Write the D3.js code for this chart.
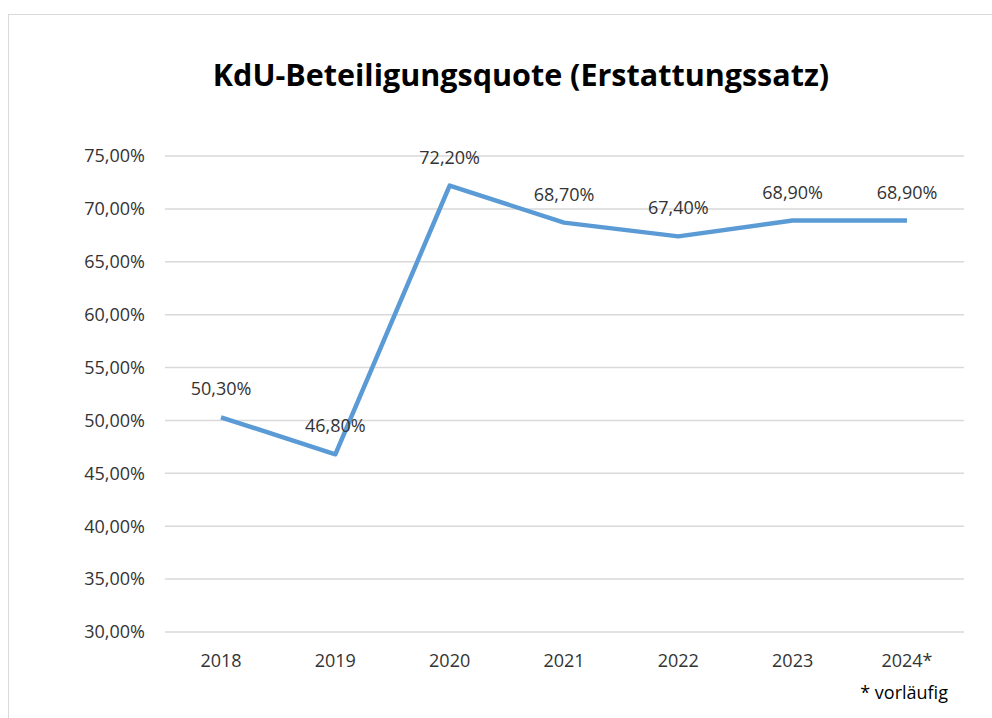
<!doctype html>
<html>
    <head>
        <script src="https://d3js.org/d3.v7.min.js"></script>
        <style type="text/css">
            body {
                margin:0;
                background:#fff;
            }
            svg {
                display:block;
            }
            text {
                font-family:"Open Sans",Calibri,sans-serif;
                fill:#333;
            }
        </style>
    </head>
    <body>
        <script>
            //chart values
            var years = ["2018","2019","2020","2021","2022","2023","2024*"];
            var quote = [50.3,46.8,72.2,68.7,67.4,68.9,68.9];
            var yTicks = [30,35,40,45,50,55,60,65,70,75];

            var fmt = function(v) {
                return d3.format(".2f")(v).replace(".",",")+"%";
            };

            var svg = d3.select("body").append("svg")
                .attr("width",992)
                .attr("height",718);

            //outer chart border
            svg.append("rect")
                .attr("x",8.5).attr("y",14.5)
                .attr("width",990).attr("height",720)
                .attr("fill","#fff")
                .attr("stroke","#d9d9d9");

            svg.append("text")
                .attr("x",521).attr("y",86)
                .attr("text-anchor","middle")
                .style("font-size","30.5px")
                .style("font-weight","bold")
                .style("fill","#000")
                .text("KdU-Beteiligungsquote (Erstattungssatz)");

            var x = d3.scalePoint().domain(years).range([221,907]);
            var y = d3.scaleLinear().domain([30,75]).range([632,156]);

            //gridlines
            svg.append("g").selectAll("line")
                .data(yTicks).enter().append("line")
                .attr("x1",165).attr("x2",964)
                .attr("y1",function(d) { return y(d); })
                .attr("y2",function(d) { return y(d); })
                .attr("stroke","#d9d9d9")
                .attr("stroke-width",1.5);

            //y axis labels
            svg.append("g").selectAll("text")
                .data(yTicks).enter().append("text")
                .attr("x",145)
                .attr("y",function(d) { return y(d); })
                .attr("dy","0.35em")
                .attr("text-anchor","end")
                .style("font-size","18px")
                .text(fmt);

            //x axis labels
            svg.append("g").selectAll("text")
                .data(years).enter().append("text")
                .attr("x",function(d) { return x(d); })
                .attr("y",667)
                .attr("text-anchor","middle")
                .style("font-size","18px")
                .text(function(d) { return d; });

            svg.append("text")
                .attr("x",948).attr("y",699)
                .attr("text-anchor","end")
                .style("font-size","18px")
                .style("fill","#000")
                .text("* vorläufig");

            var line = d3.line()
                .x(function(d,i) { return x(years[i]); })
                .y(function(d) { return y(d); });

            svg.append("path")
                .datum(quote)
                .attr("d",line)
                .attr("fill","none")
                .attr("stroke","#5b9bd5")
                .attr("stroke-width",4.5)
                .attr("stroke-linejoin","round");

            //data labels above points
            svg.append("g").selectAll("text")
                .data(quote).enter().append("text")
                .attr("x",function(d,i) { return x(years[i]); })
                .attr("y",function(d) { return y(d)-22; })
                .attr("text-anchor","middle")
                .style("font-size","18px")
                .text(fmt);
        </script>
    </body>
</html>
